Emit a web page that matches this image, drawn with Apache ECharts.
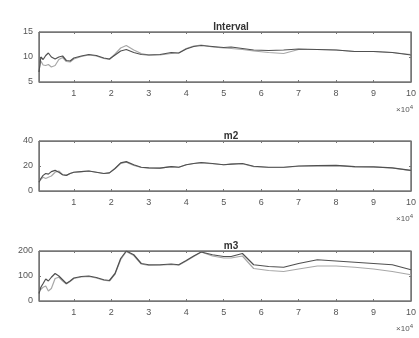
<!DOCTYPE html>
<html>
<head>
<meta charset="utf-8">
<script src="https://cdn.jsdelivr.net/npm/echarts@6.0.0/dist/echarts.min.js"></script>
<style>
  html, body { margin: 0; padding: 0; background: #fff; }
  #chart { width: 419px; height: 338px; }
</style>
</head>
<body>
<div id="chart"></div>
<script>
// x positions (units of 10^4)
const xValues = [0.07, 0.12, 0.18, 0.25, 0.32, 0.4, 0.5, 0.6, 0.7, 0.8, 0.9, 1.0, 1.2, 1.4, 1.6, 1.8, 1.95, 2.1, 2.25, 2.4, 2.6, 2.8, 3.0, 3.3, 3.6, 3.8, 4.0, 4.2, 4.4, 4.7, 5.0, 5.2, 5.5, 5.8, 6.2, 6.6, 7.0, 7.5, 8.0, 8.5, 9.0, 9.5, 10.0];
const xTicks = [1, 2, 3, 4, 5, 6, 7, 8, 9, 10];
const xRange = [0.07, 10];
const titles = ["Interval", "m2", "m3"];

const intervalA = [7, 10, 9.5, 10.3, 10.8, 10, 9.6, 10, 10.2, 9.3, 9.2, 9.8, 10.2, 10.5, 10.3, 9.8, 9.6, 10.4, 11.2, 11.5, 10.9, 10.5, 10.4, 10.5, 10.9, 10.8, 11.6, 12.1, 12.3, 12.1, 11.9, 12.0, 11.7, 11.4, 11.3, 11.4, 11.6, 11.5, 11.4, 11.1, 11.1, 10.9, 10.4];
const intervalB = [7.5, 9.2, 8.4, 8.3, 8.5, 8.0, 8.3, 9.5, 9.9, 9.1, 9.0, 9.6, 10.1, 10.4, 10.2, 9.7, 9.5, 10.6, 11.8, 12.3, 11.4, 10.7, 10.4, 10.4, 10.7, 10.8, 11.7, 12.2, 12.4, 12.0, 11.8, 11.7, 11.5, 11.2, 10.9, 10.7, 11.5, 11.5, 11.4, 11.1, 11.1, 10.9, 10.5];

const m2A = [7, 10, 12.5, 14, 13.5, 15.5, 16.5, 15, 13, 12.5, 14, 15, 15.5, 16, 15, 14, 14.5, 18, 22.5, 23.5, 21, 19, 18.5, 18.3, 19.5, 19, 21, 22, 22.8, 22, 21, 21.5, 22, 19.8, 19, 19, 20, 20.3, 20.5, 19.5, 19.3, 18.5, 16.5];
const m2B = [8, 9, 11, 10, 11, 12, 15, 16, 13, 12.5, 14, 15, 15.5, 16, 15, 14, 14.5, 18, 22, 23, 20.5, 18.8, 18.5, 18.3, 19.5, 19, 21, 22, 22.5, 21.8, 21, 21.5, 21.8, 19.5, 18.8, 18.8, 19.8, 20.1, 20.3, 19.3, 19.2, 18.4, 16.3];

const m3A = [30, 55, 70, 88, 80, 95, 110, 100, 85, 70, 80, 92, 98, 100, 94, 85, 82, 110, 170, 200, 185, 150, 145, 145, 148, 145, 162, 180, 196, 185, 178, 178, 190, 145, 138, 135, 150, 165, 160, 155, 150, 145, 125];
const m3B = [40, 48, 55, 60, 40, 50, 90, 95, 80, 68, 78, 90, 96, 98, 92, 83, 80, 108, 165, 198, 182, 148, 142, 143, 146, 143, 160, 178, 196, 180, 172, 172, 180, 130, 122, 118, 128, 140, 140, 135, 128, 118, 105];

const yRanges = [[5, 15], [0, 40], [0, 200]];

const chart = echarts.init(document.getElementById("chart"));
const font = "'Liberation Sans', Arial, sans-serif";
const boxColor = "#777";
const textColor = "#555";

const gridTops = [32, 141, 251];
const gridH = 50;

const pairs = (ys) => xValues.map((x, i) => [x, ys[i]]);
const seriesData = [[intervalA, intervalB], [m2A, m2B], [m3A, m3B]];

const grid = [], xAxis = [], yAxis = [], series = [], title = [], graphic = [];

gridTops.forEach((top, i) => {
  grid.push({ left: 39, width: 373, top: top, height: gridH, show: true, borderColor: boxColor, borderWidth: 1 });

  ["bottom", "top"].forEach((pos) => {
    xAxis.push({
      type: "value", gridIndex: i, min: xRange[0], max: xRange[1], position: pos,
      axisLine: { show: true, onZero: false, lineStyle: { color: boxColor, width: 1 } },
      axisTick: { show: true, inside: true, length: 2, customValues: xTicks, lineStyle: { color: boxColor } },
      axisLabel: {
        show: pos === "bottom", customValues: xTicks, fontSize: 9, color: textColor, margin: 7, fontFamily: font
      },
      splitLine: { show: false }
    });
  });

  const [ymin, ymax] = yRanges[i];
  ["left", "right"].forEach((pos) => {
    yAxis.push({
      type: "value", gridIndex: i, min: ymin, max: ymax, interval: (ymax - ymin) / 2, position: pos,
      axisLine: { show: true, onZero: false, lineStyle: { color: boxColor, width: 1 } },
      axisTick: { show: true, inside: true, length: 2, lineStyle: { color: boxColor } },
      axisLabel: { show: pos === "left", fontSize: 9, color: textColor, margin: 6, fontFamily: font },
      splitLine: { show: false }
    });
  });

  const colors = ["#505050", "#a8a8a8"];
  seriesData[i].forEach((ys, k) => {
    const s = {
      type: "line", xAxisIndex: i * 2, yAxisIndex: i * 2,
      data: pairs(ys), showSymbol: false, symbol: "none",
      lineStyle: { color: colors[k], width: 1.2 },
      z: k === 0 ? 3 : 2
    };
    if (k === 0) {
      // axes box, from the axis extents
      s.markArea = {
        silent: true,
        itemStyle: { color: "transparent", borderColor: boxColor, borderWidth: 1 },
        data: [[{ coord: [xRange[0], ymin] }, { coord: [xRange[1], ymax] }]]
      };
    }
    series.push(s);
  });

  title.push({
    text: titles[i], left: 226, top: top - 15, textAlign: "center",
    textStyle: { fontSize: 10, fontWeight: "bold", color: "#333", fontFamily: font }
  });

  graphic.push({
    type: "text", right: 6, top: top + gridH + 22,
    style: {
      text: "×10{s|4}", fill: textColor, fontSize: 8, fontFamily: font,
      rich: { s: { fontSize: 6, verticalAlign: "top", padding: [0, 0, 5, 0] } }
    }
  });
});

chart.setOption({
  animation: false,
  title, grid, xAxis, yAxis, series, graphic
});

window.addEventListener("resize", () => chart.resize());
</script>
</body>
</html>
